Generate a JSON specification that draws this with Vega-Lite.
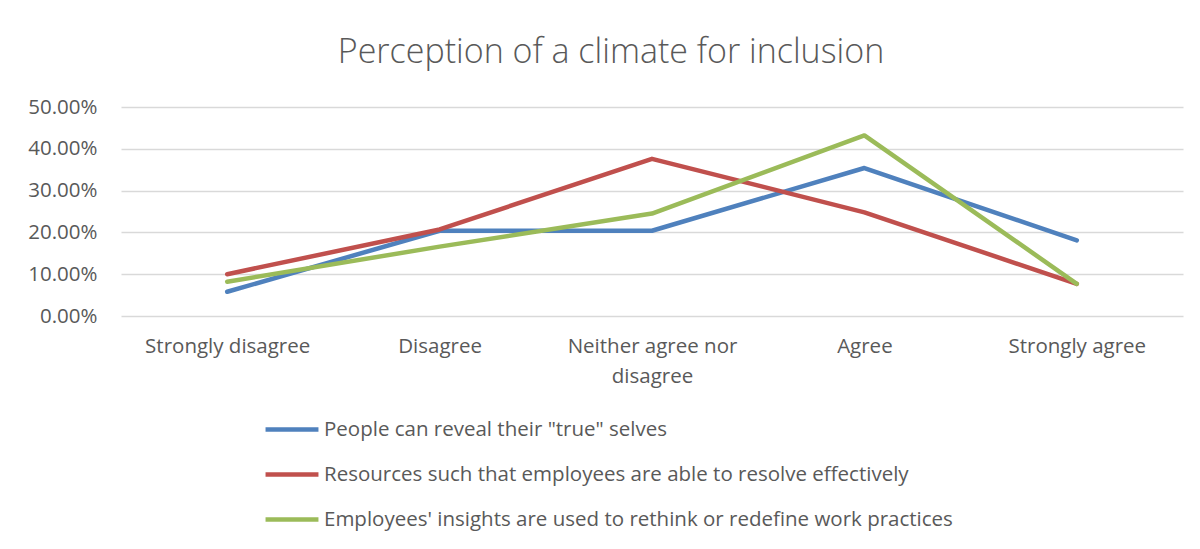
{
  "$schema": "https://vega.github.io/schema/vega-lite/v6.json",
  "width": 1062,
  "height": 209,
  "autosize": {"type": "none"},
  "padding": {"left": 121, "top": 107, "right": 17, "bottom": 233},
  "background": "white",
  "title": {
    "text": "Perception of a climate for inclusion",
    "anchor": "middle",
    "dx": -41,
    "offset": 27,
    "font": "Open Sans",
    "fontWeight": 300,
    "fontSize": 34,
    "color": "#595959"
  },
  "config": {
    "view": {"stroke": null},
    "font": "Open Sans"
  },
  "data": {
    "values": [
      {"response": "Strongly disagree", "series": "People can reveal their \"true\" selves", "value": 0.058},
      {"response": "Disagree", "series": "People can reveal their \"true\" selves", "value": 0.204},
      {"response": "Neither agree nor disagree", "series": "People can reveal their \"true\" selves", "value": 0.204},
      {"response": "Agree", "series": "People can reveal their \"true\" selves", "value": 0.354},
      {"response": "Strongly agree", "series": "People can reveal their \"true\" selves", "value": 0.181},
      {"response": "Strongly disagree", "series": "Resources such that employees are able to resolve effectively", "value": 0.100},
      {"response": "Disagree", "series": "Resources such that employees are able to resolve effectively", "value": 0.207},
      {"response": "Neither agree nor disagree", "series": "Resources such that employees are able to resolve effectively", "value": 0.376},
      {"response": "Agree", "series": "Resources such that employees are able to resolve effectively", "value": 0.248},
      {"response": "Strongly agree", "series": "Resources such that employees are able to resolve effectively", "value": 0.077},
      {"response": "Strongly disagree", "series": "Employees' insights are used to rethink or redefine work practices", "value": 0.082},
      {"response": "Disagree", "series": "Employees' insights are used to rethink or redefine work practices", "value": 0.166},
      {"response": "Neither agree nor disagree", "series": "Employees' insights are used to rethink or redefine work practices", "value": 0.245},
      {"response": "Agree", "series": "Employees' insights are used to rethink or redefine work practices", "value": 0.432},
      {"response": "Strongly agree", "series": "Employees' insights are used to rethink or redefine work practices", "value": 0.077}
    ]
  },
  "mark": {"type": "line", "strokeWidth": 4.5, "strokeCap": "round", "strokeJoin": "round"},
  "encoding": {
    "x": {
      "field": "response",
      "type": "nominal",
      "sort": ["Strongly disagree", "Disagree", "Neither agree nor disagree", "Agree", "Strongly agree"],
      "scale": {"type": "point", "padding": 0.5},
      "axis": {
        "title": null,
        "labelAngle": 0,
        "domain": false,
        "ticks": false,
        "labelPadding": 20,
        "labelFontSize": 20.5,
        "labelColor": "#595959",
        "labelLineHeight": 30,
        "labelExpr": "datum.label == 'Neither agree nor disagree' ? ['Neither agree nor', 'disagree'] : datum.label"
      }
    },
    "y": {
      "field": "value",
      "type": "quantitative",
      "scale": {"domain": [0, 0.5]},
      "axis": {
        "title": null,
        "format": ".2%",
        "values": [0, 0.1, 0.2, 0.3, 0.4, 0.5],
        "domain": false,
        "ticks": false,
        "labelPadding": 24,
        "labelFontSize": 20.5,
        "labelColor": "#595959",
        "gridColor": "#d9d9d9",
        "gridWidth": 1.5
      }
    },
    "color": {
      "field": "series",
      "type": "nominal",
      "sort": ["People can reveal their \"true\" selves", "Resources such that employees are able to resolve effectively", "Employees' insights are used to rethink or redefine work practices"],
      "scale": {
        "domain": ["People can reveal their \"true\" selves", "Resources such that employees are able to resolve effectively", "Employees' insights are used to rethink or redefine work practices"],
        "range": ["#4F81BD", "#C0504D", "#9BBB59"]
      },
      "legend": {
        "title": null,
        "orient": "none",
        "legendX": 142,
        "legendY": 300,
        "direction": "vertical",
        "symbolType": "stroke",
        "symbolSize": 2800,
        "symbolStrokeWidth": 4.5,
        "labelFontSize": 20.5,
        "labelColor": "#595959",
        "labelOffset": 3,
        "rowPadding": -8,
        "labelLimit": 900,
        "clipHeight": 45
      }
    }
  }
}
